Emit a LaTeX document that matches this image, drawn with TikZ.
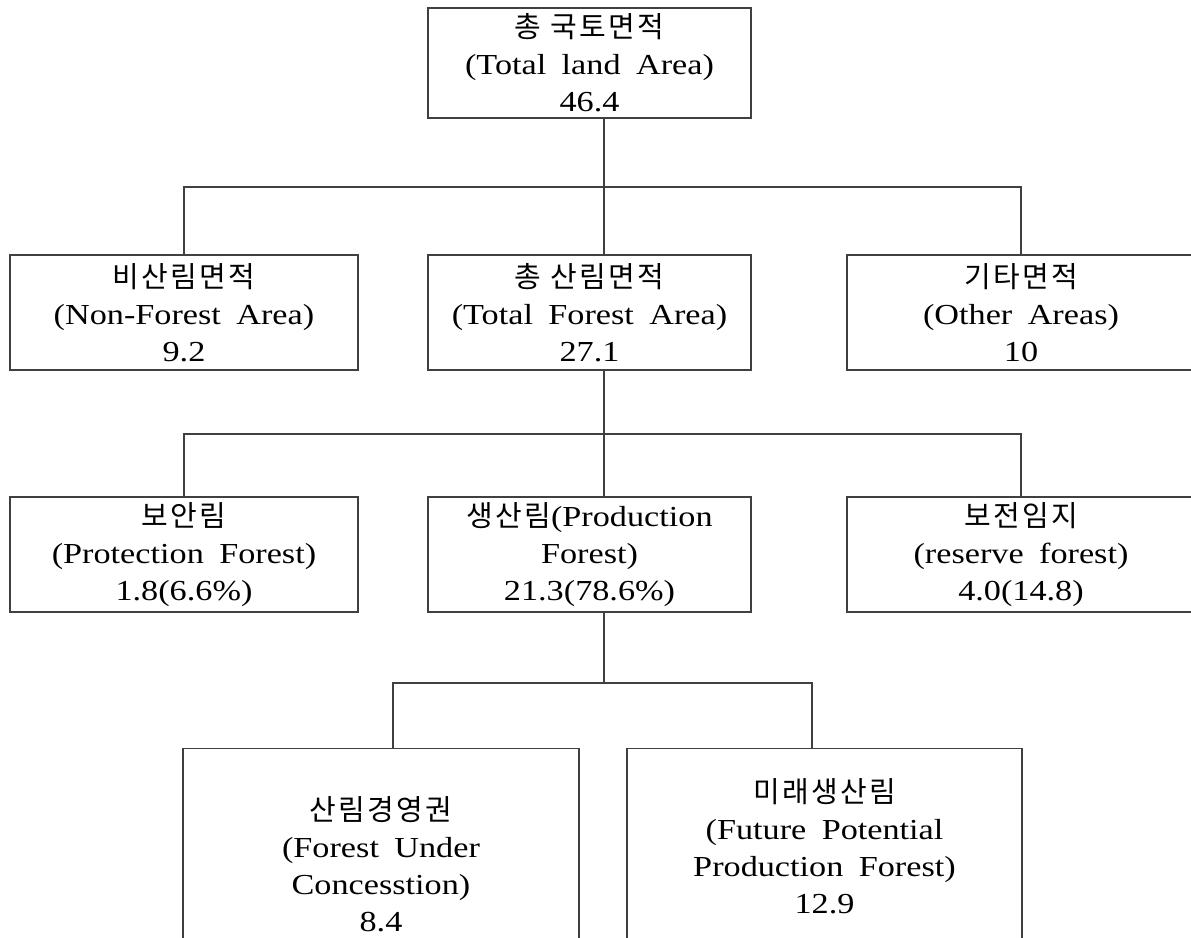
\documentclass[tikz,border=0pt]{standalone}
\usepackage{fontspec}
\setmainfont{Liberation Serif}[FakeStretch=1.18,WordSpace=1.8]
\newfontfamily\kr{Noto Sans CJK KR}[LetterSpace=8]
\usepackage{tikz}
\usetikzlibrary{positioning}

\tikzset{
  box/.style={draw=black!75, line width=1.2pt, align=center, inner sep=0pt,
    font=\fontsize{29}{37}\selectfont},
  boxtext/.style={align=center, inner sep=0pt, font=\fontsize{29}{37}\selectfont},
  link/.style={draw=black!75, line width=1.2pt}
}

\begin{document}
\begin{tikzpicture}[x=1pt,y=-1pt]
\useasboundingbox (0,0) rectangle (1191,937);
\node[box, minimum width=323, minimum height=110] (total) at (589.5,63) {{\kr 총 국토면적}\\(Total land Area)\\46.4};

\node[box, minimum width=348, minimum height=115] (nonforest) at (184,312.5) {{\kr 비산림면적}\\(Non-Forest Area)\\9.2};
\node[box, minimum width=323, minimum height=115] (forest) at (589.5,312.5) {{\kr 총 산림면적}\\(Total Forest Area)\\27.1};
\node[box, minimum width=348, minimum height=115] (other) at (1021,312.5) {{\kr 기타면적}\\(Other Areas)\\10};

\node[box, minimum width=348, minimum height=115] (protection) at (184,554.5) {{\kr 보안림}\\(Protection Forest)\\1.8(6.6\%)};
\node[box, minimum width=323, minimum height=115] (production) at (589.5,554.5) {{\kr 생산림}(Production\\Forest)\\21.3(78.6\%)};
\node[box, minimum width=348, minimum height=115] (reserve) at (1021,554.5) {{\kr 보전임지}\\(reserve forest)\\4.0(14.8)};

\node[box, anchor=north, minimum width=396, minimum height=260] (concession) at (381,748) {};
\node[boxtext] (concessiontext) at (381,864) {{\kr 산림경영권}\\(Forest Under\\Concesstion)\\8.4};
\node[box, anchor=north, minimum width=395, minimum height=260] (future) at (824.5,748) {};
\node[boxtext] (futuretext) at (824.5,846) {{\kr 미래생산림}\\(Future Potential\\Production Forest)\\12.9};

\coordinate (bus1) at (604,187);
\coordinate (bus2) at (604,434);
\coordinate (bus3) at (604,683);
\coordinate (leg1) at (393,683);
\coordinate (leg2) at (812,683);

\draw[link] (total.south -| bus1) -- (bus1);
\draw[link] (nonforest.north) -- (nonforest.north |- bus1) -- (other.north |- bus1) -- (other.north);
\draw[link] (bus1) -- (forest.north -| bus1);

\draw[link] (forest.south -| bus2) -- (bus2);
\draw[link] (protection.north) -- (protection.north |- bus2) -- (reserve.north |- bus2) -- (reserve.north);
\draw[link] (bus2) -- (production.north -| bus2);

\draw[link] (production.south -| bus3) -- (bus3);
\draw[link] (concession.north -| leg1) -- (leg1) -- (leg2) -- (future.north -| leg2);
\end{tikzpicture}
\end{document}
